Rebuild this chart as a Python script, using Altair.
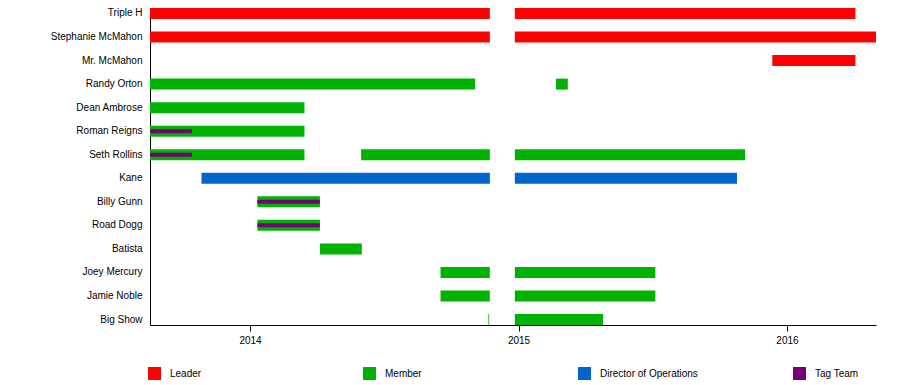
import altair as alt
import pandas as pd

# Row order (top to bottom)
members = ["Triple H", "Stephanie McMahon", "Mr. McMahon", "Randy Orton", "Dean Ambrose",
           "Roman Reigns", "Seth Rollins", "Kane", "Billy Gunn", "Road Dogg", "Batista",
           "Joey Mercury", "Jamie Noble", "Big Show"]

roles = ["Leader", "Member", "Director of Operations", "Tag Team"]
role_colors = ["#ff0000", "#00b300", "#0066cc", "#770077"]

# Main tenure bars
bar_names = ["Triple H", "Triple H", "Stephanie McMahon", "Stephanie McMahon", "Mr. McMahon",
             "Randy Orton", "Randy Orton", "Dean Ambrose", "Roman Reigns", "Seth Rollins",
             "Seth Rollins", "Seth Rollins", "Kane", "Kane", "Billy Gunn", "Road Dogg",
             "Batista", "Joey Mercury", "Joey Mercury", "Jamie Noble", "Jamie Noble",
             "Big Show", "Big Show"]
bar_starts = ["2013-08-18", "2014-12-27", "2013-08-18", "2014-12-27", "2015-12-12",
              "2013-08-18", "2015-02-21", "2013-08-18", "2013-08-18", "2013-08-18",
              "2014-06-01", "2014-12-27", "2013-10-27", "2014-12-27", "2014-01-11", "2014-01-11",
              "2014-04-06", "2014-09-17", "2014-12-27", "2014-09-17", "2014-12-27",
              "2014-11-21", "2014-12-27"]
bar_ends = ["2014-11-23", "2016-04-03", "2014-11-23", "2016-05-01", "2016-04-03",
            "2014-11-03", "2015-03-09", "2014-03-16", "2014-03-16", "2014-03-16",
            "2014-11-23", "2015-11-05", "2014-11-23", "2015-10-25", "2014-04-06", "2014-04-06",
            "2014-06-02", "2014-11-23", "2015-07-06", "2014-11-23", "2015-07-06",
            "2014-11-22", "2015-04-26"]
bar_roles = ["Leader", "Leader", "Leader", "Leader", "Leader",
             "Member", "Member", "Member", "Member", "Member",
             "Member", "Member", "Director of Operations", "Director of Operations",
             "Member", "Member", "Member", "Member", "Member", "Member", "Member",
             "Member", "Member"]

# Tag team overlay stripes
tag_names = ["Roman Reigns", "Seth Rollins", "Billy Gunn", "Road Dogg"]
tag_starts = ["2013-08-18", "2013-08-18", "2014-01-11", "2014-01-11"]
tag_ends = ["2013-10-14", "2013-10-14", "2014-04-06", "2014-04-06"]
tag_roles = ["Tag Team", "Tag Team", "Tag Team", "Tag Team"]

bars = pd.DataFrame({"name": bar_names, "start": bar_starts, "end": bar_ends, "role": bar_roles})
tags = pd.DataFrame({"name": tag_names, "start": tag_starts, "end": tag_ends, "role": tag_roles})

x_domain = [alt.DateTime(year=2013, month=8, date=18, utc=True),
            alt.DateTime(year=2016, month=5, date=1, utc=True)]
x_ticks = [alt.DateTime(year=y, month=1, date=1, utc=True) for y in (2014, 2015, 2016)]

x_enc = alt.X("start:T", scale=alt.Scale(type="utc", domain=x_domain),
              axis=alt.Axis(values=x_ticks, format="%Y", title=None, grid=False,
                            tickSize=6, tickColor="black", domainColor="black",
                            labelColor="black", labelFontSize=10, labelPadding=4,
                            labelFont="Liberation Sans"))
y_enc = alt.Y("name:N", sort=members,
              scale=alt.Scale(domain=members, paddingInner=0.533, paddingOuter=0),
              axis=alt.Axis(title=None, ticks=False, domainColor="black", labelColor="black",
                            labelFontSize=10, labelPadding=8, labelFont="Liberation Sans"))
color_enc = alt.Color("role:N",
                      scale=alt.Scale(domain=roles, range=role_colors),
                      legend=alt.Legend(title=None, orient="none", legendX=-2, legendY=359,
                                        direction="horizontal", columns=4, gridAlign="all",
                                        columnPadding=95, symbolType="square", symbolSize=169,
                                        symbolStrokeWidth=0, labelOffset=9, labelFontSize=10,
                                        labelColor="black", labelFont="Liberation Sans",
                                        padding=0))

main = alt.Chart(bars).mark_bar().encode(x=x_enc, x2="end:T", y=y_enc, color=color_enc)
tag = alt.Chart(tags).mark_bar(height=4).encode(x=x_enc, x2="end:T", y=y_enc, color=color_enc)

chart = alt.layer(main, tag).properties(
    width=726, height=317,
    autosize=alt.AutoSizeParams(type="none"),
    padding={"left": 142, "top": 0, "right": 10, "bottom": 60},
).configure(font="Liberation Sans").configure_view(stroke=None)

chart.save("out.html", embed_options={"renderer": "svg", "actions": False})
